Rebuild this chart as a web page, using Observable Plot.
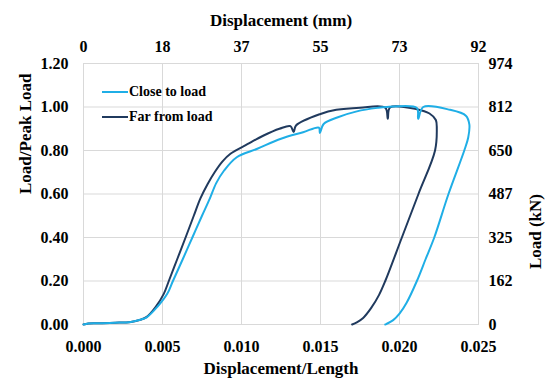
<!DOCTYPE html>
<html>
<head>
<meta charset="utf-8">
<script src="https://cdn.jsdelivr.net/npm/d3@7"></script>
<script src="https://cdn.jsdelivr.net/npm/@observablehq/plot@0.6"></script>
<style>
  body { margin: 0; background: #fff; }
  #wrap { position: relative; width: 550px; height: 386px; font-family: 'Liberation Serif', serif; font-weight: bold; }
  #wrap svg, #wrap svg text { font-family: 'Liberation Serif', serif !important; font-weight: bold; }
  #legend { position: absolute; left: 102px; top: 79px; font-size: 14px; color: #000; font-family: 'Liberation Serif', serif; }
  #legend div { display: flex; align-items: center; height: 25px; }
  #legend span.sw { display: inline-block; width: 26px; height: 2px; margin-right: 1px; }
</style>
</head>
<body>
<div id="wrap"></div>
<script>
// Strain (displacement/length) and normalized load
const farStrain = [0, 0.0003, 0.001, 0.002, 0.003, 0.0036, 0.004, 0.00456, 0.00508, 0.0054, 0.00593, 0.00646, 0.00698, 0.0074, 0.00785, 0.0083, 0.0088, 0.0093, 0.0104, 0.0114, 0.0124, 0.0131, 0.0133, 0.01345, 0.015, 0.016, 0.0175, 0.0191, 0.01926, 0.0194, 0.0211, 0.0219, 0.0223, 0.02236, 0.02225, 0.0212, 0.02015, 0.0191, 0.0187, 0.0182, 0.0177, 0.0173, 0.0170];
const farLoad   = [0, 0.005, 0.006, 0.008, 0.012, 0.022, 0.035, 0.08, 0.141, 0.2, 0.3, 0.4, 0.5, 0.58, 0.645, 0.7, 0.75, 0.785, 0.83, 0.869, 0.9, 0.912, 0.885, 0.915, 0.968, 0.987, 0.997, 0.997, 0.946, 0.998, 0.99, 0.97, 0.94, 0.9, 0.8, 0.6, 0.4, 0.2, 0.135, 0.075, 0.03, 0.01, 0];
const closeStrain = [0, 0.0003, 0.001, 0.002, 0.003, 0.0036, 0.004, 0.00466, 0.0053, 0.00566, 0.00628, 0.00689, 0.0075, 0.008, 0.0084, 0.0089, 0.0097, 0.011, 0.0125, 0.0139, 0.0149, 0.01496, 0.0152, 0.0161, 0.0173, 0.0186, 0.0192, 0.0211, 0.02118, 0.0215, 0.0232, 0.0242, 0.02442, 0.02435, 0.0241, 0.0231, 0.0222, 0.02165, 0.0211, 0.02045, 0.0200, 0.0196, 0.0191];
const closeLoad   = [0, 0.005, 0.006, 0.008, 0.012, 0.022, 0.033, 0.08, 0.141, 0.2, 0.3, 0.4, 0.5, 0.58, 0.65, 0.708, 0.769, 0.808, 0.854, 0.884, 0.905, 0.88, 0.922, 0.953, 0.98, 0.996, 1.0, 0.996, 0.946, 1.0, 0.987, 0.96, 0.92, 0.86, 0.8, 0.6, 0.4, 0.3, 0.2, 0.1, 0.05, 0.02, 0];

const seriesNames = ["Close to load", "Far from load"];
const seriesColors = ["#1FAEE6", "#203A5E"];

const xTicks = [0, 0.005, 0.010, 0.015, 0.020, 0.025];
const xTickLabels = ["0.000", "0.005", "0.010", "0.015", "0.020", "0.025"];
const topTickLabels = ["0", "18", "37", "55", "73", "92"];
const yTicks = [0, 0.2, 0.4, 0.6, 0.8, 1.0, 1.2];
const yTickLabels = ["0.00", "0.20", "0.40", "0.60", "0.80", "1.00", "1.20"];
const rightTickLabels = ["0", "162", "325", "487", "650", "812", "974"];

const closeData = closeStrain.map((s, i) => ({s, l: closeLoad[i], series: seriesNames[0]}));
const farData = farStrain.map((s, i) => ({s, l: farLoad[i], series: seriesNames[1]}));

const fmt = (ticks, labels) => v => { const i = ticks.findIndex(t => Math.abs(t - v) < 1e-9); return i >= 0 ? labels[i] : ""; };
const FF = "'Liberation Serif', serif";

const chart = Plot.plot({
  width: 550,
  height: 386,
  marginLeft: 83,
  marginRight: 72,
  marginTop: 63,
  marginBottom: 62,
  style: {fontFamily: FF, fontSize: "16px", fontWeight: "bold", color: "#000", background: "#fff", overflow: "visible"},
  x: {domain: [0, 0.025]},
  y: {domain: [0, 1.2]},
  marks: [
    Plot.gridX(xTicks, {stroke: "#d9d9d9", strokeOpacity: 1, strokeWidth: 1}),
    Plot.gridY(yTicks, {stroke: "#d9d9d9", strokeOpacity: 1, strokeWidth: 1}),
    Plot.frame({stroke: "#d9d9d9"}),
    Plot.axisX(xTicks, {anchor: "bottom", tickSize: 0, tickPadding: 16, tickFormat: fmt(xTicks, xTickLabels), label: null, fontSize: 16, fontFamily: FF}),
    Plot.axisX(xTicks, {anchor: "top", tickSize: 0, tickPadding: 12, tickFormat: fmt(xTicks, topTickLabels), label: null, fontSize: 16, fontFamily: FF}),
    Plot.axisY(yTicks, {anchor: "left", tickSize: 0, tickPadding: 15, tickFormat: fmt(yTicks, yTickLabels), label: null, fontSize: 16, fontFamily: FF}),
    Plot.axisY(yTicks, {anchor: "right", tickSize: 0, tickPadding: 10, tickFormat: fmt(yTicks, rightTickLabels), label: null, fontSize: 16, fontFamily: FF}),
    Plot.line(farData, {x: "s", y: "l", stroke: seriesColors[1], strokeWidth: 2, curve: "catmull-rom"}),
    Plot.line(closeData, {x: "s", y: "l", stroke: seriesColors[0], strokeWidth: 2, curve: "catmull-rom"}),
    Plot.text(["Displacement/Length"], {frameAnchor: "bottom", dy: 44, lineAnchor: "middle", fontSize: 17, fontFamily: FF}),
    Plot.text(["Displacement (mm)"], {frameAnchor: "top", dy: -43, lineAnchor: "middle", fontSize: 17, fontFamily: FF}),
    Plot.text(["Load/Peak Load"], {frameAnchor: "left", dx: -58, rotate: -90, lineAnchor: "middle", fontSize: 17, fontFamily: FF}),
    Plot.text(["Load (kN)"], {frameAnchor: "right", dx: 57, rotate: -90, lineAnchor: "middle", fontSize: 17, fontFamily: FF})
  ]
});

const wrap = document.getElementById("wrap");
wrap.appendChild(chart);
const legend = document.createElement("div");
legend.id = "legend";
seriesNames.forEach((n, i) => {
  const row = document.createElement("div");
  const sw = document.createElement("span");
  sw.className = "sw";
  sw.style.background = seriesColors[i];
  row.appendChild(sw);
  row.appendChild(document.createTextNode(n));
  legend.appendChild(row);
});
wrap.appendChild(legend);
</script>
</body>
</html>
